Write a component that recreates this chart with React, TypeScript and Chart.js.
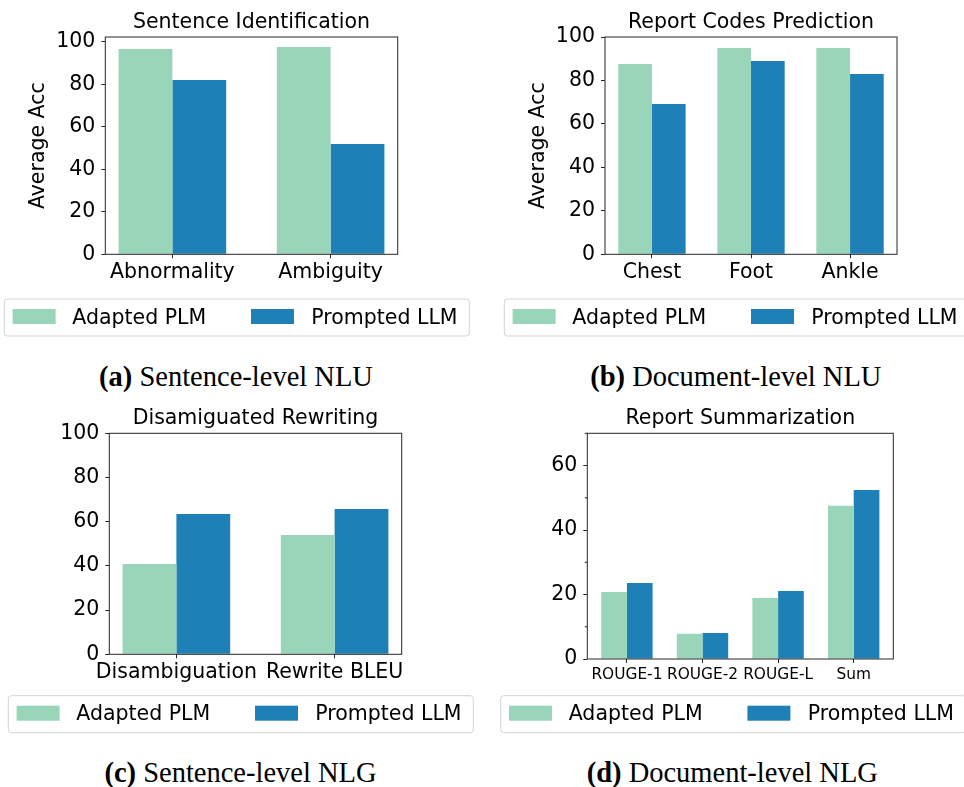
import React, { useEffect, useRef } from "react";
import { Chart, registerables } from "chart.js";

Chart.register(...registerables);

// ---------- data ----------
const seriesNames = ["Adapted PLM", "Prompted LLM"];

const sentCategories = ["Abnormality", "Ambiguity"];
const sentPLM = [96.5, 97.5];
const sentLLM = [82.0, 51.9];
const sentYTicks = [0, 20, 40, 60, 80, 100];

const docCategories = ["Chest", "Foot", "Ankle"];
const docPLM = [87.6, 94.9, 94.9];
const docLLM = [69.2, 89.0, 83.0];
const docYTicks = [0, 20, 40, 60, 80, 100];

const rewCategories = ["Disambiguation", "Rewrite BLEU"];
const rewPLM = [40.9, 54.0];
const rewLLM = [63.5, 65.8];
const rewYTicks = [0, 20, 40, 60, 80, 100];

const sumCategories = ["ROUGE-1", "ROUGE-2", "ROUGE-L", "Sum"];
const sumPLM = [20.8, 7.8, 18.9, 47.5];
const sumLLM = [23.6, 8.1, 21.1, 52.4];
const sumYTicks = [0, 20, 40, 60];
const sumYMinorTicks = [10, 30, 50, 70];

// ---------- styles ----------
const GREEN = "#98d5b9";
const BLUE = "#1f7fb7";
const SPINE = "#262626";
const FONT = "'DejaVu Sans', sans-serif";
const FS = 20.5;
const BAR_W = 0.34; // width of one bar, in category units

type Panel = {
  key: string;
  x: number; y: number; w: number; h: number;
  title: string;
  titlePadTop: number;
  cats: string[];
  plm: number[];
  llm: number[];
  yMax: number;
  yTicks: number[];
  yMinor?: number[];
  yTitle?: string;
  yTitlePad?: number;
  xFontSize: number;
  plot: { l: number; r: number; t: number; b: number };
  legend: { x: number; y: number };
  captionBold: string;
  captionText: string;
  captionCx: number;
  captionBase: number;
};

const panels: Panel[] = [
  {
    key: "a", x: 0, y: 0, w: 480, h: 345,
    title: "Sentence Identification", titlePadTop: 9.9,
    cats: sentCategories, plm: sentPLM, llm: sentLLM,
    yMax: 102.2, yTicks: sentYTicks, yTitle: "Average Acc", yTitlePad: 26.6,
    xFontSize: FS,
    plot: { l: 105.3, r: 397.7, t: 37, b: 254.3 },
    legend: { x: 4.3, y: 299 },
    captionBold: "(a)", captionText: " Sentence-level NLU", captionCx: 236, captionBase: 386.5,
  },
  {
    key: "b", x: 480, y: 0, w: 484, h: 345,
    title: "Report Codes Prediction", titlePadTop: 9.9,
    cats: docCategories, plm: docPLM, llm: docLLM,
    yMax: 100, yTicks: docYTicks, yTitle: "Average Acc", yTitlePad: 45.9,
    xFontSize: FS,
    plot: { l: 125, r: 417, t: 37, b: 254.3 },
    legend: { x: 24.3, y: 299 },
    captionBold: "(b)", captionText: " Document-level NLU", captionCx: 255.8, captionBase: 386.5,
  },
  {
    key: "c", x: 0, y: 398, w: 480, h: 345,
    title: "Disamiguated Rewriting", titlePadTop: 8.3,
    cats: rewCategories, plm: rewPLM, llm: rewLLM,
    yMax: 100, yTicks: rewYTicks,
    xFontSize: FS,
    plot: { l: 109.3, r: 401.7, t: 35.3, b: 256.3 },
    legend: { x: 8.3, y: 297.7 },
    captionBold: "(c)", captionText: " Sentence-level NLG", captionCx: 240.5, captionBase: 782.5,
  },
  {
    key: "d", x: 480, y: 398, w: 484, h: 345,
    title: "Report Summarization", titlePadTop: 8.3,
    cats: sumCategories, plm: sumPLM, llm: sumLLM,
    yMax: 70, yTicks: sumYTicks, yMinor: sumYMinorTicks,
    xFontSize: 15.4,
    plot: { l: 107.3, r: 413.3, t: 35.3, b: 261 },
    legend: { x: 20.7, y: 297.7 },
    captionBold: "(d)", captionText: " Document-level NLG", captionCx: 252.3, captionBase: 782.5,
  },
];

// ---------- decoration plugin (frame, minor ticks, boxed legend) ----------
const decorPlugin = {
  id: "decor",
  afterDraw(chart: any, _args: any, opts: any) {
    const { ctx, chartArea: a } = chart;
    ctx.save();
    // frame
    ctx.strokeStyle = SPINE;
    ctx.lineWidth = 1;
    ctx.strokeRect(a.left, a.top, a.right - a.left, a.bottom - a.top);
    // minor ticks
    const ys = chart.scales.y;
    (opts.minor || []).forEach((v: number) => {
      const py = ys.getPixelForValue(v);
      ctx.beginPath();
      ctx.moveTo(a.left - 2.5, py);
      ctx.lineTo(a.left, py);
      ctx.stroke();
    });
    // legend
    const L = opts.legend;
    const bw = 465, bh = 37, r = 3;
    ctx.strokeStyle = "#d4d4d4";
    ctx.lineWidth = 1;
    ctx.beginPath();
    ctx.moveTo(L.x + r, L.y);
    ctx.lineTo(L.x + bw - r, L.y);
    ctx.arcTo(L.x + bw, L.y, L.x + bw, L.y + r, r);
    ctx.lineTo(L.x + bw, L.y + bh - r);
    ctx.arcTo(L.x + bw, L.y + bh, L.x + bw - r, L.y + bh, r);
    ctx.lineTo(L.x + r, L.y + bh);
    ctx.arcTo(L.x, L.y + bh, L.x, L.y + bh - r, r);
    ctx.lineTo(L.x, L.y + r);
    ctx.arcTo(L.x, L.y, L.x + r, L.y, r);
    ctx.closePath();
    ctx.fillStyle = "#ffffff";
    ctx.fill();
    ctx.stroke();
    const swX = [8.3, 246.7];
    const txX = [68, 307];
    ctx.font = `${FS}px ${FONT}`;
    ctx.textBaseline = "alphabetic";
    ctx.textAlign = "left";
    chart.data.datasets.forEach((ds: any, i: number) => {
      ctx.fillStyle = ds.backgroundColor;
      ctx.fillRect(L.x + swX[i], L.y + 10, 43, 15);
      ctx.fillStyle = "#000";
      ctx.fillText(ds.label, L.x + txX[i], L.y + 24.5);
    });
    ctx.restore();
  },
};

function buildConfig(p: Panel): any {
  const n = p.cats.length;
  const pad = BAR_W + 0.05 * (n - 1 + 2 * BAR_W);
  const tickFont = { family: FONT, size: FS };
  return {
    type: "bar",
    data: {
      datasets: [
        {
          label: seriesNames[0],
          data: p.cats.map((_, i) => ({ x: i, y: p.plm[i] })),
          backgroundColor: GREEN,
          borderWidth: 0,
          categoryPercentage: 2 * BAR_W,
          barPercentage: 1,
        },
        {
          label: seriesNames[1],
          data: p.cats.map((_, i) => ({ x: i, y: p.llm[i] })),
          backgroundColor: BLUE,
          borderWidth: 0,
          categoryPercentage: 2 * BAR_W,
          barPercentage: 1,
        },
      ],
    },
    options: {
      responsive: false,
      maintainAspectRatio: false,
      animation: false,
      devicePixelRatio: 1,
      events: [],
      layout: {
        autoPadding: false,
        padding: { left: 0, top: 0, bottom: 0, right: p.w - p.plot.r },
      },
      plugins: {
        legend: { display: false },
        tooltip: { enabled: false },
        title: {
          display: true,
          text: p.title,
          fullSize: false,
          color: "#000",
          font: { family: FONT, size: FS, weight: "normal", lineHeight: 1.2 },
          padding: { top: p.titlePadTop, bottom: p.plot.t - p.titlePadTop - FS * 1.2 },
        },
        decor: { legend: p.legend, minor: p.yMinor || [] },
      },
      scales: {
        x: {
          type: "linear",
          min: -pad,
          max: n - 1 + pad,
          offset: false,
          afterBuildTicks: (s: any) => {
            s.ticks = p.cats.map((_, i) => ({ value: i }));
          },
          afterFit: (s: any) => {
            s.height = p.h - p.plot.b;
          },
          ticks: {
            autoSkip: false,
            maxRotation: 0,
            minRotation: 0,
            padding: 2.3,
            color: "#000",
            font: { family: FONT, size: p.xFontSize },
            callback: (v: any) => p.cats[Math.round(v)] ?? "",
          },
          grid: {
            display: true,
            offset: false,
            drawOnChartArea: false,
            drawTicks: true,
            tickLength: 4,
            tickColor: SPINE,
            tickWidth: 1,
          },
          border: { display: false },
        },
        y: {
          type: "linear",
          min: 0,
          max: p.yMax,
          afterBuildTicks: (s: any) => {
            s.ticks = p.yTicks.map((v) => ({ value: v }));
          },
          afterFit: (s: any) => {
            s.width = p.plot.l;
          },
          ticks: {
            autoSkip: false,
            padding: 6,
            color: "#000",
            font: tickFont,
            callback: (v: any) => String(v),
          },
          grid: {
            display: true,
            drawOnChartArea: false,
            drawTicks: true,
            tickLength: 4,
            tickColor: SPINE,
            tickWidth: 1,
          },
          border: { display: false },
          title: {
            display: !!p.yTitle,
            text: p.yTitle || "",
            color: "#000",
            font: { family: FONT, size: FS, lineHeight: 1.2 },
            padding: { top: p.yTitlePad || 0, bottom: 0 },
          },
        },
      },
    },
    plugins: [decorPlugin],
  };
}

function ChartPanel({ p }: { p: Panel }) {
  const ref = useRef<HTMLCanvasElement>(null);
  useEffect(() => {
    const chart = new Chart(ref.current as HTMLCanvasElement, buildConfig(p));
    return () => chart.destroy();
  }, [p]);
  return (
    <canvas
      ref={ref}
      width={p.w}
      height={p.h}
      style={{ position: "absolute", left: p.x, top: p.y, width: p.w, height: p.h, display: "block" }}
    />
  );
}

export default function App() {
  const capFs = 28.5;
  return (
    <div
      style={{
        position: "absolute",
        left: 0,
        top: 0,
        width: 964,
        height: 787,
        overflow: "hidden",
        background: "#fff",
      }}
    >
      {panels.map((p) => (
        <ChartPanel key={p.key} p={p} />
      ))}
      {panels.map((p) => (
        <div
          key={"cap" + p.key}
          style={{
            position: "absolute",
            left: p.x + p.captionCx - 250,
            width: 500,
            top: p.captionBase - 23.9,
            textAlign: "center",
            fontFamily: "'Liberation Serif', 'Times New Roman', serif",
            fontSize: capFs,
            lineHeight: `${capFs}px`,
            color: "#000",
            whiteSpace: "pre",
          }}
        >
          <b>{p.captionBold}</b>
          {p.captionText}
        </div>
      ))}
    </div>
  );
}
